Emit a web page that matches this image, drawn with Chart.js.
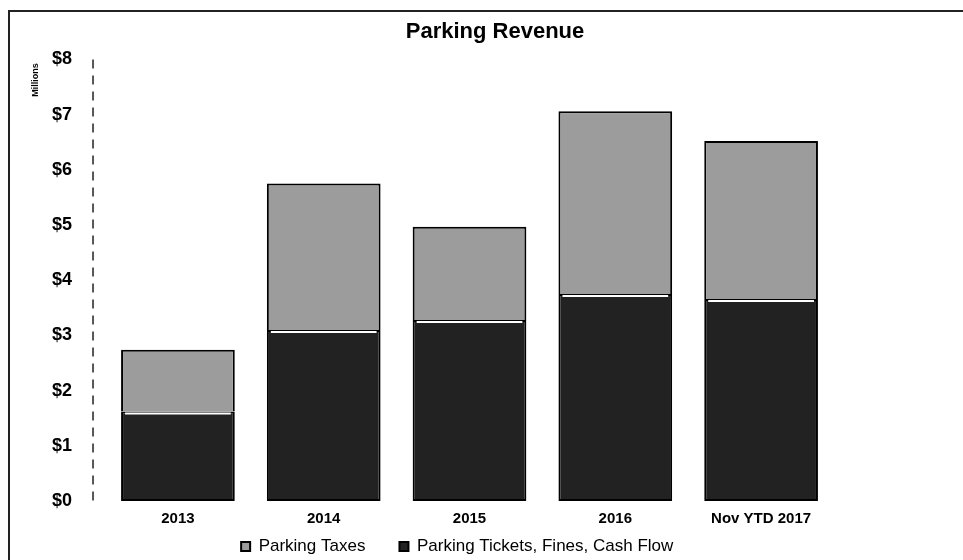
<!DOCTYPE html>
<html>
<head>
<meta charset="utf-8">
<script src="https://cdn.jsdelivr.net/npm/chart.js@4/dist/chart.umd.min.js"></script>
<style>
  html, body { margin: 0; padding: 0; background: #fff; }
  #wrap { position: relative; width: 963px; height: 560px; }
  #frame { position: absolute; left: 8px; top: 10px; right: 0; bottom: 0;
           border-left: 2px solid #222; border-top: 2px solid #222; }
  canvas { position: absolute; left: 0; top: 0; }
</style>
</head>
<body>
<div id="wrap">
  <div id="frame"></div>
  <canvas id="chart" width="963" height="560"></canvas>
</div>
<script>
// values in $ millions
const categories = ['2013', '2014', '2015', '2016', 'Nov YTD 2017'];
const tickets = [1.62, 3.10, 3.28, 3.75, 3.66];   // Parking Tickets, Fines, Cash Flow
const taxes = [1.12, 2.65, 1.69, 3.31, 2.86];     // Parking Taxes
const yTicks = [0, 1, 2, 3, 4, 5, 6, 7, 8];

const font = '"Liberation Sans", Arial, sans-serif';

// white gap between the segments, dashed value axis, small "Millions" unit label
const extras = {
  id: 'extras',
  afterDatasetsDraw(chart) {
    const ctx = chart.ctx;
    const area = chart.chartArea;
    ctx.save();
    ctx.strokeStyle = '#fff';
    ctx.lineWidth = 2;
    chart.getDatasetMeta(0).data.forEach(bar => {
      const half = bar.width / 2 - 4;
      ctx.beginPath();
      ctx.moveTo(bar.x - half, bar.y + 2);
      ctx.lineTo(bar.x + half, bar.y + 2);
      ctx.stroke();
    });
    ctx.strokeStyle = '#222';
    ctx.lineWidth = 1.5;
    ctx.setLineDash([9, 7]);
    ctx.beginPath();
    ctx.moveTo(area.left - 12, area.top);
    ctx.lineTo(area.left - 12, area.bottom);
    ctx.stroke();
    ctx.restore();
  },
  afterDraw(chart) {
    const ctx = chart.ctx;
    ctx.save();
    ctx.translate(36, 80);
    ctx.rotate(-Math.PI / 2);
    ctx.font = 'bold 9px ' + font;
    ctx.fillStyle = '#000';
    ctx.textAlign = 'center';
    ctx.textBaseline = 'middle';
    ctx.fillText('Millions', 0, 0);
    ctx.restore();
  }
};

const pad = n => ' '.repeat(n);

new Chart(document.getElementById('chart'), {
  type: 'bar',
  data: {
    labels: categories,
    datasets: [
      {
        label: 'Parking Tickets, Fines, Cash Flow',
        data: tickets,
        backgroundColor: '#222222',
        borderColor: '#000',
        borderWidth: 2,
        borderSkipped: false,
        barPercentage: 0.78,
        categoryPercentage: 1
      },
      {
        label: 'Parking Taxes',
        data: taxes,
        backgroundColor: '#9c9c9c',
        borderColor: '#000',
        borderWidth: 2,
        borderSkipped: 'bottom',
        barPercentage: 0.78,
        categoryPercentage: 1
      }
    ]
  },
  options: {
    responsive: false,
    animation: false,
    layout: { padding: { left: 27, right: 0, top: 8, bottom: -5 } },
    plugins: {
      title: {
        display: true,
        text: 'Parking Revenue',
        color: '#000',
        font: { family: font, size: 22, weight: 'bold' },
        padding: { top: 11, bottom: 14 }
      },
      legend: {
        position: 'bottom',
        reverse: true,
        labels: {
          color: '#000',
          font: { family: font, size: 17 },
          boxWidth: 9,
          boxHeight: 9,
          padding: 1,
          generateLabels(chart) {
            const items = Chart.defaults.plugins.legend.labels.generateLabels(chart);
            // gap between the entries and shift of the legend to the left, as in the scan
            items[1].text += pad(7);   // Parking Taxes (shown first)
            items[0].text += pad(16);  // Parking Tickets...
            return items;
          }
        }
      },
      tooltip: { enabled: false }
    },
    scales: {
      x: {
        stacked: true,
        grid: { display: false, drawTicks: false },
        border: { display: false },
        ticks: { color: '#000', font: { family: font, size: 15, weight: 'bold' }, padding: 9 }
      },
      y: {
        stacked: true,
        min: 0,
        max: 8,
        afterBuildTicks(axis) { axis.ticks = yTicks.map(v => ({ value: v })); },
        grid: { display: false },
        border: { display: false },
        ticks: {
          color: '#000',
          padding: 25,
          font: { family: font, size: 18, weight: 'bold' },
          callback: v => '$' + v
        }
      },
      // empty axis that only reserves the blank space right of the bars
      yr: {
        position: 'right',
        min: 0,
        max: 8,
        grid: { display: false },
        border: { display: false },
        ticks: { display: false },
        afterFit(axis) { axis.width = 129; }
      }
    }
  },
  plugins: [extras]
});
</script>
</body>
</html>
